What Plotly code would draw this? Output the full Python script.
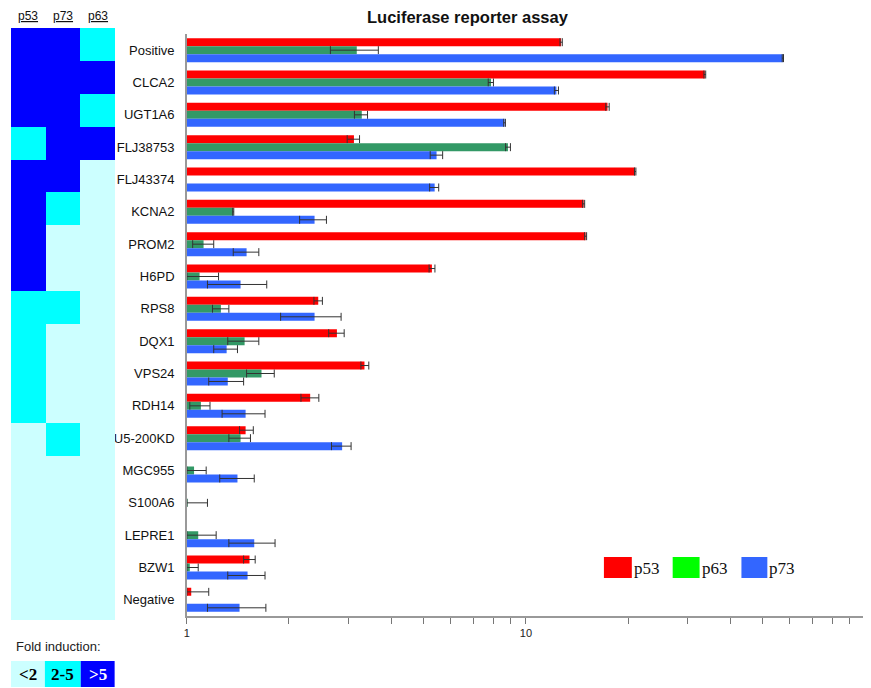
import plotly.graph_objects as go

genes = ["Positive", "CLCA2", "UGT1A6", "FLJ38753", "FLJ43374", "KCNA2", "PROM2", "H6PD",
         "RPS8", "DQX1", "VPS24", "RDH14", "U5-200KD", "MGC955", "S100A6", "LEPRE1", "BZW1", "Negative"]

# fold induction (mean) and error-bar bounds (low, high)
p53 = [12.7, 33.7, 17.4, 3.11, 21.0, 14.8, 15.0, 5.28, 2.44, 2.77, 3.34, 2.31, 1.49, None, None, None, 1.53, 1.03]
p53_lo = [12.6, 33.5, 17.2, 2.97, 20.9, 14.7, 14.9, 5.18, 2.37, 2.62, 3.26, 2.17, 1.43, None, None, None, 1.47, 1.0]
p53_hi = [12.8, 33.9, 17.6, 3.23, 21.1, 14.9, 15.1, 5.39, 2.51, 2.91, 3.44, 2.45, 1.57, None, None, None, 1.59, 1.16]

p63 = [3.17, 7.89, 3.28, 8.85, None, 1.37, 1.12, 1.09, 1.26, 1.48, 1.66, 1.10, 1.44, 1.05, 1.005, 1.08, 1.02, None]
p63_lo = [2.65, 7.74, 3.12, 8.71, None, 1.365, 1.04, 1.0, 1.19, 1.32, 1.50, 1.02, 1.33, 1.0, 1.0, 1.0, 1.0, None]
p63_hi = [3.67, 8.02, 3.41, 9.0, None, 1.375, 1.20, 1.24, 1.33, 1.63, 1.81, 1.17, 1.54, 1.14, 1.15, 1.22, 1.08, None]

p73 = [57.2, 12.3, 8.65, 5.45, 5.38, 2.38, 1.50, 1.44, 2.38, 1.31, 1.32, 1.49, 2.87, 1.41, None, 1.58, 1.51, 1.43]
p73_lo = [57.0, 12.13, 8.6, 5.22, 5.20, 2.15, 1.37, 1.15, 1.89, 1.20, 1.16, 1.27, 2.67, 1.25, None, 1.33, 1.32, 1.15]
p73_hi = [57.5, 12.47, 8.7, 5.68, 5.53, 2.58, 1.63, 1.72, 2.85, 1.41, 1.47, 1.70, 3.05, 1.58, None, 1.82, 1.70, 1.71]

# heatmap classes: 0 = <2, 1 = 2-5, 2 = >5   (columns p53, p73, p63)
heat_cols = ["p53", "p73", "p63"]
heat_p53 = [2, 2, 2, 1, 2, 2, 2, 2, 1, 1, 1, 1, 0, 0, 0, 0, 0, 0]
heat_p73 = [2, 2, 2, 2, 2, 1, 0, 0, 1, 0, 0, 0, 1, 0, 0, 0, 0, 0]
heat_p63 = [1, 2, 1, 2, 0, 0, 0, 0, 0, 0, 0, 0, 0, 0, 0, 0, 0, 0]

fold_labels = ["<2", "2-5", ">5"]
x_ticks = [1, 2, 3, 4, 5, 6, 7, 8, 9, 10, 20, 30, 40, 50, 60, 70, 80, 90, 100]

# the page body adds an 8px offset; figure is sized to fit the window
OFF = 8
SW, SH = 871, 688
W, H = SW - OFF, SH - OFF
ML, MR, MT, MB = 8 - OFF, 6, 28 - OFF, 68
PW = W - ML - MR
PH = H - MT - MB


def px_x(p):  # screen pixel -> paper
    return (p - OFF - ML) / PW


def px_y(p):
    return (SH - MB - p) / PH


def errs(v, lo, hi):
    plus = [None if a is None else h - a for a, h in zip(v, hi)]
    minus = [None if a is None else a - l for a, l in zip(v, lo)]
    return plus, minus


RED, GREEN, BLUE = "#FF0000", "#339966", "#3366FF"
L_CYAN, CYAN, D_BLUE = "#CCFFFF", "#00FFFF", "#0000FF"

fig = go.Figure()

z = [[a, b, c] for a, b, c in zip(heat_p53, heat_p73, heat_p63)]
fig.add_trace(go.Heatmap(
    z=z, x=heat_cols, y=genes, zmin=0, zmax=2, showscale=False,
    colorscale=[[0, L_CYAN], [0.333, L_CYAN], [0.333, CYAN], [0.667, CYAN],
                [0.667, D_BLUE], [1, D_BLUE]],
    xaxis="x2", yaxis="y2", hoverinfo="skip"))

for name, vals, lo, hi, col in [("p53", p53, p53_lo, p53_hi, RED),
                                ("p63", p63, p63_lo, p63_hi, GREEN),
                                ("p73", p73, p73_lo, p73_hi, BLUE)]:
    plus, minus = errs(vals, lo, hi)
    fig.add_trace(go.Bar(
        y=genes, x=vals, name=name, orientation="h", marker_color=col,
        marker_line_width=0, showlegend=False,
        error_x=dict(type="data", symmetric=False, array=plus, arrayminus=minus,
                     color="#333333", thickness=1, width=4),
        xaxis="x", yaxis="y"))

fig.update_layout(
    width=W, height=H,
    margin=dict(l=ML, r=MR, t=MT, b=MB, pad=0),
    paper_bgcolor="white", plot_bgcolor="white",
    barmode="group", bargap=0.26, bargroupgap=0,
    font=dict(family="Liberation Sans, Arial, sans-serif", color="#111111"),
    xaxis=dict(domain=[px_x(184.5), 1], type="log", range=[0, 2], anchor="y",
               showgrid=False, zeroline=False, showline=True, linecolor="#999999",
               linewidth=1.5, ticks="outside", ticklen=6, tickcolor="#777777",
               tickvals=x_ticks,
               ticktext=[str(v) if v in (1, 10, 100) else "" for v in x_ticks],
               tickfont=dict(size=11, color="#222222")),
    yaxis=dict(domain=[px_y(616), px_y(34)], anchor="x", type="category",
               categoryorder="array", categoryarray=genes, autorange="reversed",
               showgrid=False, zeroline=False, showline=True, linecolor="#999999",
               linewidth=1.5, ticks="", ticklabelstandoff=8,
               tickfont=dict(size=13, color="#111111")),
    xaxis2=dict(domain=[0, px_x(112.5)], anchor="y2", type="category",
                categoryorder="array", categoryarray=heat_cols,
                showgrid=False, zeroline=False, showline=False, showticklabels=False,
                ticks=""),
    yaxis2=dict(domain=[0, 1], anchor="x2", type="category",
                categoryorder="array", categoryarray=genes, autorange="reversed",
                showgrid=False, zeroline=False, showline=False, showticklabels=False,
                ticks=""),
)

annotations = [dict(text="<b>Luciferase reporter assay</b>", xref="paper", yref="paper",
                    x=px_x(467), y=px_y(16.5), showarrow=False,
                    font=dict(size=16.5, color="#111111"), xanchor="center", yanchor="middle")]
for c in heat_cols:
    annotations.append(dict(text="<u>%s</u>" % c, xref="x2", yref="paper", x=c, y=px_y(16),
                            showarrow=False, font=dict(size=12, color="#111111"),
                            xanchor="center", yanchor="middle"))

annotations.append(dict(text="Fold induction:", xref="paper", yref="paper",
                        x=px_x(11), y=px_y(646), xanchor="left", yanchor="middle",
                        showarrow=False, font=dict(size=13, color="#222222")))

shapes = []
box_x = [(8, 42), (42, 78), (78, 112)]
box_cols = [L_CYAN, CYAN, D_BLUE]
txt_cols = ["#000000", "#000000", "#FFFFFF"]
for (x0, x1), fc, lab, tc in zip(box_x, box_cols, fold_labels, txt_cols):
    shapes.append(dict(type="rect", xref="paper", yref="paper", x0=px_x(x0), x1=px_x(x1),
                       y0=px_y(661), y1=px_y(687), fillcolor=fc, line_width=0, layer="below"))
    annotations.append(dict(text="<b>%s</b>" % lab, xref="paper", yref="paper",
                            x=px_x((x0 + x1) / 2), y=px_y(674), xanchor="center",
                            yanchor="middle", showarrow=False,
                            font=dict(size=17, color=tc,
                                      family="Liberation Serif, Times New Roman, serif")))

# series key
key = [("p53", "#FF0000", 603, 631), ("p63", "#00FF00", 672, 699), ("p73", "#3366FF", 741, 767)]
for lab, col, x0, x1 in key:
    shapes.append(dict(type="rect", xref="paper", yref="paper", x0=px_x(x0), x1=px_x(x1),
                       y0=px_y(578), y1=px_y(557), fillcolor=col, line_width=0))
    annotations.append(dict(text=lab, xref="paper", yref="paper", x=px_x(x1), y=px_y(568),
                            xanchor="left", yanchor="middle", showarrow=False,
                            font=dict(size=17, color="#111111",
                                      family="Liberation Serif, Times New Roman, serif")))

fig.update_layout(annotations=annotations, shapes=shapes)

fig.write_html("out.html")
